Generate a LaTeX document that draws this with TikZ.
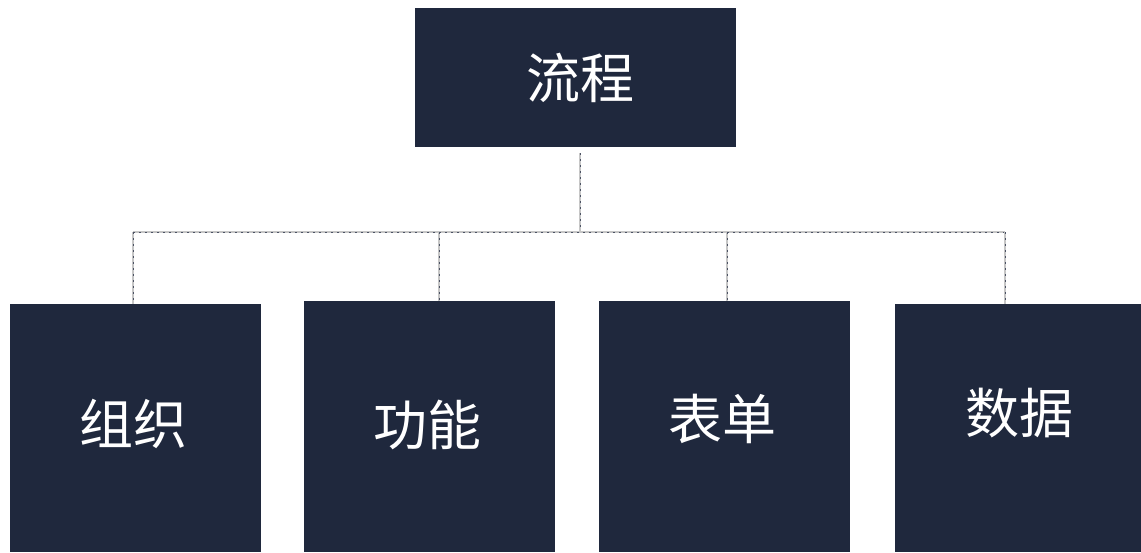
\documentclass[tikz,border=0pt]{standalone}
\usepackage{fontspec}
\newfontfamily\cjk{Noto Sans CJK SC}
\usepackage{tikz}
\definecolor{boxnavy}{HTML}{1F283D}
\tikzset{
  box/.style={rectangle,fill=boxnavy,inner sep=0pt},
  lab/.style={text=white,inner sep=0pt,font=\cjk\fontsize{54}{60}\selectfont},
  link/.style={draw=gray!45,line width=2pt,postaction={draw=boxnavy!80,line width=0.5pt,dash pattern=on 2pt off 4pt}}
}

\begin{document}
\begin{tikzpicture}[x=1pt,y=-1pt]
\useasboundingbox (0,0) rectangle (1141,552);
\node[box,minimum width=321pt,minimum height=139pt,
  label={[lab,xshift=4.5pt]center:流程}] at (575.5,77.5) (top) {};
\coordinate (hub) at (580,232);
\foreach \n/\x/\y/\h/\tx/\ty/\t in {1/135.5/428/248/-2/4.5/组织,2/429.5/426.5/251/-2.5/1.5/功能,
                                   3/724.5/426.5/251/-2.5/8/表单,4/1020.5/428/248/-1.5/15/数据}{
  \node[box,minimum width=251pt,minimum height=\h pt,
    label={[lab,xshift=\tx pt,yshift=\ty pt]center:\t}] at (\x,\y) (c-\n) {};
};
\draw[link] ([xshift=4.5pt,yshift=-6pt]top.south) -- ([xshift=4.5pt]top.south |- hub);
\draw[link] ([xshift=-2.5pt]c-1.north |- hub) -- ([xshift=-15.5pt]c-4.north |- hub);
\foreach \n/\dx in {1/-2.5,2/9.5,3/2.5,4/-15.5}{
  \draw[link] ([xshift=\dx pt]c-\n.north |- hub) -- ([xshift=\dx pt]c-\n.north);
};
\end{tikzpicture}
\end{document}
